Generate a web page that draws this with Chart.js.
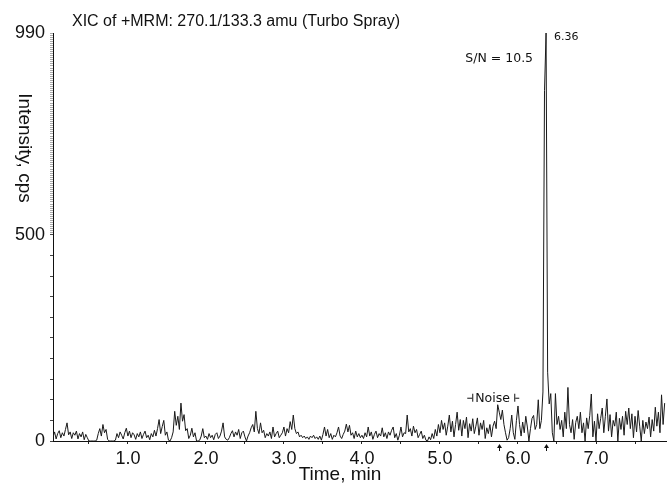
<!DOCTYPE html>
<html>
<head>
<meta charset="utf-8">
<script src="https://cdn.jsdelivr.net/npm/chart.js@4.4.0/dist/chart.umd.min.js"></script>
<style>
  body { margin: 0; background: #fff; }
  canvas { display: block; }
</style>
</head>
<body>
<canvas id="xic" width="667" height="487"></canvas>
<script>
// XIC trace, one value every 0.02 min
var dwell = 0.02;

// 0.04 - 1.98 min
var trace1 = [
  10, 22, 5, 18, 25, 8, 20, 12, 28, 44,
  15, 22, 6, 20, 14, 24, 5, 18, 10, 22,
  3, 16, 8, 0, 0, 0, 0, 0, 2, 18,
  30, 12, 40, 20, 28, 4, 0, 0, 0, 0,
  2, 18, 8, 22, 14, 5, 20, 31, 12, 24,
  8, 20, 15, 4, 18, 10, 22, 6, 16, 24,
  8, 14, 3, 18, 10, 26, 12, 30, 52, 18,
  35, 50, 14, 22, 2, 0, 8, 22, 72, 38,
  60, 28, 92, 48, 64, 25, 30, 6, 14, 31,
  10, 20, 0, 0, 2, 12, 30, 8
];
// 2.00 - 3.98 min
var trace2 = [
  12, 4, 18, 8, 14, 3, 16, 20, 6, 12,
  24, 44, 10, 4, 2, 8, 18, 25, 10, 22,
  14, 28, 6, 20, 24, 10, 0, 12, 20, 32,
  40, 22, 72, 30, 18, 44, 20, 26, 8, 18,
  12, 22, 6, 34, 10, 18, 24, 8, 14, 20,
  34, 12, 30, 20, 47, 28, 63, 30, 18, 22,
  10, 14, 8, 12, 6, 10, 4, 12, 8, 14,
  6, 10, 4, 12, 2, 16, 34, 12, 28, 8,
  18, 4, 14, 10, 20, 34, 12, 6, 16, 24,
  41, 22, 38, 14, 20, 6, 24, 10, 18, 8
];
// 4.00 - 5.98 min
var trace3 = [
  14, 6, 20, 10, 34, 12, 22, 4, 16, 24,
  8, 18, 12, 32, 10, 20, 6, 22, 14, 26,
  34, 8, 18, 2, 14, 34, 10, 20, 18, 63,
  22, 30, 12, 36, 20, 28, 8, 16, 24, 6,
  14, 2, 0, 10, 3, 18, 6, 28, 12, 40,
  20, 50, 28, 44, 14, 36, 63, 22, 48, 10,
  40, 70, 26, 52, 12, 50, 30, 58, 8, 42,
  24, 54, 18, 36, 56, 14, 44, 28, 50, 6,
  32, 18, 40, 10, 36, 48, 30, 88, 70, 52,
  75, 40, 20, 2, 8, 30, 63, 20, 4, 50
];
// 6.00 - 7.88 min
var trace4 = [
  85, 40, 12, 46, 20, 60, 34, 0, 30, 55,
  62, 28, 40, 100, 30, 50, 119, 850, 990, 167,
  90, 115, 20, 0, 115, 40, 60, 28, 50, 10,
  70, 30, 130, 40, 20, 52, 4, 45, 60, 30,
  70, 20, 44, 0, 56, 30, 62, 114, 10, 48,
  0, 66, 30, 55, 80, 20, 60, 102, 24, 64,
  10, 50, 36, 70, 0, 55, 28, 60, 14, 72,
  40, 80, 30, 66, 8, 60, 22, 74, 36, 0,
  50, 18, 46, 30, 58, 10, 52, 24, 82, 36,
  70, 20, 112, 40, 92
];
var traceStarts = [0.04, 2.00, 4.00, 6.00];

var yLabels = [0, 500, 990];
var xLabels = [1, 2, 3, 4, 5, 6, 7];

var peakTime = 6.36;
var peakHeight = 990;
var noiseFrom = 5.76;
var noiseTo = 6.36;

// build the x/y points
var points = [];
[trace1, trace2, trace3, trace4].forEach(function (seg, s) {
    seg.forEach(function (v, i) {
        var t = Math.round((traceStarts[s] + i * dwell) * 100) / 100;
        points.push({ x: t, y: v });
    });
});

var sansFont = '"Liberation Sans", Arial, sans-serif';
var smallFont = '"DejaVu Sans", Verdana, sans-serif';

// text and little marks that sit on top of the plot
var notes = {
    id: 'notes',
    afterDraw: function (chart) {
        var ctx = chart.ctx;
        var xs = chart.scales.x, ys = chart.scales.y;
        ctx.save();
        ctx.fillStyle = '#111';
        ctx.strokeStyle = '#111';

        ctx.font = '16px ' + sansFont;
        ctx.textAlign = 'left';
        ctx.textBaseline = 'middle';
        ctx.fillText('XIC of +MRM: 270.1/133.3 amu (Turbo Spray)', 72, 22);

        // axis titles
        ctx.font = '19px ' + sansFont;
        ctx.textAlign = 'center';
        ctx.fillText('Time, min', 340, 475);
        ctx.save();
        ctx.translate(24, 148);
        ctx.rotate(Math.PI / 2);
        ctx.fillText('Intensity, cps', 0, 0);
        ctx.restore();

        var px = xs.getPixelForValue(peakTime);
        var py = ys.getPixelForValue(peakHeight);
        ctx.font = '11px ' + smallFont;
        ctx.textAlign = 'left';
        ctx.fillText('6.36', px + 8, py + 4);
        ctx.font = '12.5px ' + smallFont;
        ctx.textAlign = 'right';
        ctx.fillText('S/N = 10.5', px - 13, py + 26);

        // noise window label
        var n0 = xs.getPixelForValue(noiseFrom) - 32;
        var ny = ys.getPixelForValue(105);
        ctx.lineWidth = 1;
        ctx.beginPath();
        ctx.moveTo(n0, ny + 0.5); ctx.lineTo(n0 + 5, ny + 0.5);
        ctx.moveTo(n0 + 5.5, ny - 4); ctx.lineTo(n0 + 5.5, ny + 4);
        ctx.moveTo(n0 + 47.5, ny - 4); ctx.lineTo(n0 + 47.5, ny + 4);
        ctx.moveTo(n0 + 48, ny + 0.5); ctx.lineTo(n0 + 52, ny + 0.5);
        ctx.stroke();
        ctx.font = '12.5px ' + smallFont;
        ctx.textAlign = 'left';
        ctx.fillText('Noise', n0 + 8, ny + 1);

        // little arrows under the axis
        var base = ys.getPixelForValue(0);
        [noiseFrom, noiseTo].forEach(function (t) {
            var ax = Math.round(xs.getPixelForValue(t)) + 0.5;
            ctx.beginPath();
            ctx.moveTo(ax, base + 4);
            ctx.lineTo(ax, base + 10);
            ctx.stroke();
            ctx.beginPath();
            ctx.moveTo(ax - 2.5, base + 7);
            ctx.lineTo(ax, base + 3);
            ctx.lineTo(ax + 2.5, base + 7);
            ctx.closePath();
            ctx.fill();
        });
        ctx.restore();
    }
};

var bg = {
    id: 'bg',
    beforeDraw: function (chart) {
        var ctx = chart.ctx;
        ctx.save();
        ctx.fillStyle = '#fff';
        ctx.fillRect(0, 0, chart.width, chart.height);
        ctx.restore();
    }
};

var ctx = document.getElementById('xic');
var chart = new Chart(ctx, {
    type: 'line',
    data: {
        datasets: [{
            label: 'XIC',
            data: points,
            borderColor: '#1a1a1a',
            borderWidth: 1,
            pointRadius: 0,
            tension: 0,
            fill: false
        }]
    },
    options: {
        responsive: false,
        animation: false,
        devicePixelRatio: 1,
        layout: { padding: { top: 33, right: 0, left: 0, bottom: 0 } },
        plugins: { legend: { display: false }, tooltip: { enabled: false } },
        scales: {
            x: {
                type: 'linear',
                min: 0.04,
                max: 7.91,
                afterBuildTicks: function (scale) {
                    var t = [];
                    for (var v = 0.5; v < 7.9; v += 0.5) t.push({ value: v });
                    scale.ticks = t;
                },
                afterFit: function (scale) { scale.height = 46; },
                grid: { drawOnChartArea: false, drawTicks: true, tickLength: 3, color: '#222' },
                border: { display: true, color: '#111', width: 1 },
                ticks: {
                    autoSkip: false,
                    maxRotation: 0,
                    padding: 4,
                    color: '#111',
                    font: { family: sansFont, size: 18 },
                    callback: function (v) {
                        return xLabels.indexOf(v) >= 0 ? v.toFixed(1) : '';
                    }
                }
            },
            y: {
                type: 'linear',
                min: 0,
                max: 990,
                afterBuildTicks: function (scale) {
                    var t = [];
                    for (var v = 0; v < 500; v += 50) t.push({ value: v });
                    for (var w = 500; w <= 990; w += 5) t.push({ value: w });
                    scale.ticks = t;
                },
                afterFit: function (scale) { scale.width = 53; },
                grid: {
                    drawOnChartArea: false, drawTicks: true, tickLength: 3,
                    // the upper half reads as a fine dotted edge
                    color: function (c) { return c.tick && c.tick.value > 500 ? '#aaa' : '#444'; }
                },
                border: { display: true, color: '#111', width: 1 },
                ticks: {
                    autoSkip: false,
                    padding: 5,
                    color: '#111',
                    font: { family: sansFont, size: 18 },
                    callback: function (v) {
                        return yLabels.indexOf(v) >= 0 ? String(v) : '';
                    }
                }
            }
        }
    },
    plugins: [bg, notes]
});
</script>
</body>
</html>
